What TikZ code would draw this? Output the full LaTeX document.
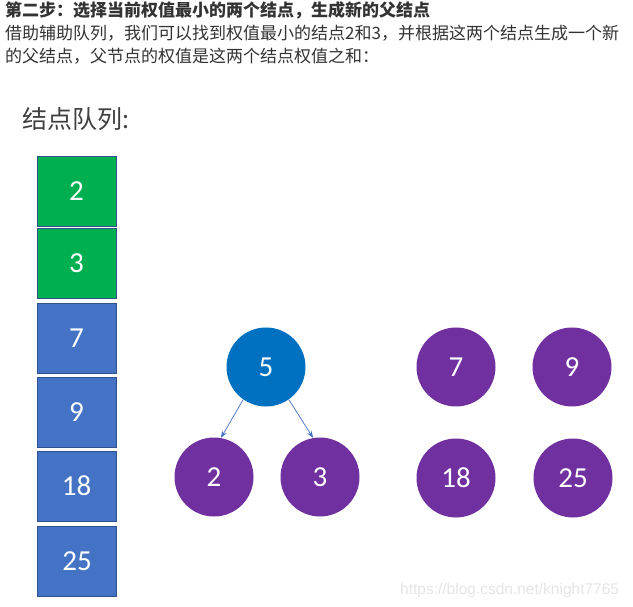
\documentclass[tikz,border=0pt]{standalone}
\usepackage{fontspec}
\setmainfont{Carlito}
\newfontfamily\cjk{Noto Sans CJK SC}
\newfontfamily\wmfont{Liberation Sans}
\usetikzlibrary{arrows.meta}
\definecolor{qgreen}{HTML}{00B050}
\definecolor{qblue}{HTML}{4472C4}
\definecolor{qedge}{HTML}{2F528F}
\definecolor{nblue}{HTML}{0070C0}
\definecolor{npurple}{HTML}{7030A0}
\definecolor{txt}{HTML}{333333}
\tikzset{
  qbox/.style={draw=qedge, line width=0.6pt, minimum width=79pt, minimum height=70pt, inner sep=0pt, text=white, font=\fontsize{29}{30}\selectfont},
  qgreenbox/.style={qbox, fill=qgreen},
  qbluebox/.style={qbox, fill=qblue},
  tnode/.style={circle, minimum size=79pt, inner sep=0pt, text=white, font=\fontsize{29}{30}\selectfont},
  parentnode/.style={tnode, fill=nblue},
  leafnode/.style={tnode, fill=npurple},
  link/.style={draw=qblue, line width=0.7pt, -{Stealth[length=7pt,width=5pt]}},
  head/.style={anchor=base west, inner sep=0pt, text=txt}
}
\begin{document}
\begin{tikzpicture}[x=1pt,y=-1pt]
\useasboundingbox[fill=white] (0,0) rectangle (633,607);
% header text
\node[head, font=\cjk\fontsize{17}{18}\selectfont\bfseries] (h1) at (5,17) {第二步：选择当前权值最小的两个结点，生成新的父结点};
\node[head, font=\cjk\fontsize{17}{18}\selectfont] (h2) at (5,40) {借助辅助队列，我们可以找到权值最小的结点2和3，并根据这两个结点生成一个新};
\node[head, font=\cjk\fontsize{17}{18}\selectfont] (h3) at (5,63) {的父结点，父节点的权值是这两个结点权值之和：};
% title
\node[anchor=base west, inner sep=0pt, text=black!75, font=\cjk\fontsize{25}{26}\selectfont] (title) at (22,129) {结点队列:};
% queue
\node[qgreenbox] (q1) at (76.5,191) {2};
\node[qgreenbox] (q2) at (76.5,263) {3};
\node[qbluebox] (q3) at (76.5,338) {7};
\node[qbluebox] (q4) at (76.5,412) {9};
\node[qbluebox] (q5) at (76.5,486) {18};
\node[qbluebox] (q6) at (77,561) {25};
% tree
\node[parentnode] (p5) at (266,367) {5};
\node[leafnode] (l2) at (214,477) {2};
\node[leafnode] (l3) at (320,477) {3};
\node[leafnode] (n7) at (456,367) {7};
\node[leafnode] (n9) at (572,367) {9};
\node[leafnode] (n18) at (456,478) {18};
\node[leafnode] (n25) at (573,478) {25};
\draw[link] (p5.235) -- (l2.80);
\draw[link] (p5.305) -- (l3.100);
% watermark
\node[anchor=base west, inner sep=0pt, text=black!10, font=\wmfont\fontsize{15.5}{16}\selectfont] (wm) at (400,594) {https://blog.csdn.net/knight7765};
\end{tikzpicture}
\end{document}
